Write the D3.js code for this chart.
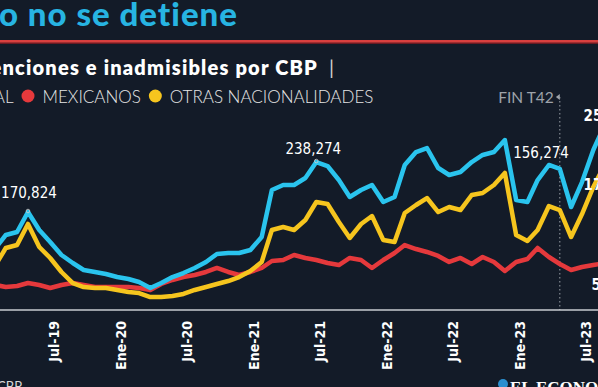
<!DOCTYPE html>
<html>
<head>
<meta charset="utf-8">
<script src="https://cdn.jsdelivr.net/npm/d3@7"></script>
<style>
  html, body { margin: 0; padding: 0; background: #131b28; overflow: hidden; }
  svg { display: block; }
</style>
</head>
<body>
<svg id="chart" width="598" height="387"></svg>
<script>
// Meses (feb 2019 - sep 2023)
var months = [
  "2019-02","2019-03","2019-04","2019-05","2019-06","2019-07","2019-08","2019-09","2019-10","2019-11","2019-12",
  "2020-01","2020-02","2020-03","2020-04","2020-05","2020-06","2020-07","2020-08","2020-09","2020-10","2020-11","2020-12",
  "2021-01","2021-02","2021-03","2021-04","2021-05","2021-06","2021-07","2021-08","2021-09","2021-10","2021-11","2021-12",
  "2022-01","2022-02","2022-03","2022-04","2022-05","2022-06","2022-07","2022-08","2022-09","2022-10","2022-11","2022-12",
  "2023-01","2023-02","2023-03","2023-04","2023-05","2023-06","2023-07","2023-08","2023-09"
];

var total = [
  122300,139800,143900,170824,146600,130400,112800,102000,92600,89900,87200,
  83100,80400,76400,68300,75000,83100,88500,95300,103400,114200,115500,115500,
  119600,137100,200500,207300,207300,216700,238274,232900,214000,191100,200500,207300,
  184300,191100,234300,251800,257200,230200,220800,224800,238300,247800,251800,268000,
  187000,184300,214000,234300,228900,177600,211300,254500,288300
];

var mexicanos = [
  72300,69600,71000,75000,72300,68300,72300,75000,72300,69600,69600,
  69600,69600,68300,65600,73700,79100,83100,85800,89900,95300,89900,85800,
  89900,95300,104700,106100,112800,108800,106100,102000,99300,108800,106100,95300,
  106100,115500,126300,120900,116900,111500,103400,108800,100700,110100,103400,91200,
  103400,107400,122300,110100,100700,92600,96600,99300,102000
];

var otras = [
  99300,122300,126300,154700,123600,108800,89900,75000,69600,68300,68300,
  65600,62900,61500,56100,56100,57500,60200,65600,69600,73700,77700,83100,
  91200,103400,146600,150600,146600,160000,184300,181600,157300,135800,154700,165400,
  133100,130400,169500,180300,189700,170800,177600,173500,193800,196500,207300,223500,
  139800,131700,146600,178900,173500,137100,168100,204600,234300
];

var tickMonths = ["2019-07","2020-01","2020-07","2021-01","2021-07","2022-01","2022-07","2023-01","2023-07","2023-09"];
var tickLabels = ["Jul-19","Ene-20","Jul-20","Ene-21","Jul-21","Ene-22","Jul-22","Ene-23","Jul-23","Sep-23"];

var labelMonths = ["2019-05","2021-07","2023-01","2023-09","2023-09","2023-09"];
var labelSeries = ["total","total","total","total","otras","mexicanos"];
var labelTexts  = ["170,824","238,274","156,274","256,475","175,214","57,312"];

var legendNames = ["TOTAL","MEXICANOS","OTRAS NACIONALIDADES"];
var finT42Month = "2023-05";

var colors = { total: "#2ac4ee", mexicanos: "#e5393c", otras: "#f6c51e" };
var seriesData = { total: total, mexicanos: mexicanos, otras: otras };

var parse = d3.timeParse("%Y-%m");
var svg = d3.select("#chart");
var width = 598, height = 387;

var x = d3.scaleTime()
    .domain([parse("2019-01"), parse("2023-09")])
    .range([-15.7, 604.6]);

var y = d3.scaleLinear()
    .domain([0, 300000])
    .range([338.6, 116.3]);

// titulo
svg.append("text")
    .attr("x", 238).attr("y", 26)
    .attr("text-anchor", "end")
    .attr("fill", "#27b4e2")
    .style("font-family", "Lato, 'Open Sans', sans-serif")
    .style("font-weight", 900)
    .style("font-size", "33px")
    .style("letter-spacing", "1px")
    .text("El flujo migratorio no se detiene");

svg.append("rect").attr("x", 0).attr("y", 40).attr("width", width).attr("height", 4).attr("fill", "#6b1a22");
svg.append("rect").attr("x", 0).attr("y", 40).attr("width", width).attr("height", 2.5).attr("fill", "#d8403f");

// subtitulo
svg.append("text")
    .attr("x", 318).attr("y", 75)
    .attr("text-anchor", "end")
    .attr("fill", "#ffffff")
    .style("font-family", "Lato, sans-serif")
    .style("font-weight", 800)
    .style("font-size", "20px")
    .style("letter-spacing", "1.2px")
    .text("Detenciones e inadmisibles por CBP");
svg.append("text")
    .attr("x", 329).attr("y", 75)
    .attr("fill", "#d0d0d0")
    .style("font-family", "Lato, sans-serif")
    .style("font-size", "20px")
    .text("|");

// leyenda
var legend = svg.append("g");
var lx = 0;
var legendKeys = ["total", "mexicanos", "otras"];
var redDotX = 0;
legendKeys.forEach(function (k, i) {
    legend.append("circle").attr("cx", lx + 6.5).attr("cy", 96).attr("r", 6.5).attr("fill", colors[k]);
    if (k === "mexicanos") redDotX = lx + 6.5;
    var t = legend.append("text")
        .attr("x", lx + 21).attr("y", 103)
        .attr("fill", "#e6e6e6")
        .style("font-family", "Lato, sans-serif")
        .style("font-weight", 300)
        .style("font-size", "17px")
        .text(legendNames[i]);
    lx += 21 + t.node().getComputedTextLength() + 8;
});
legend.attr("transform", "translate(" + (28 - redDotX) + ",0)");

// FIN T42
var xf = x(parse(finT42Month));
svg.append("line")
    .attr("x1", xf).attr("x2", xf).attr("y1", 97).attr("y2", 310)
    .attr("stroke", "#9aa0a8").attr("stroke-width", 1)
    .attr("stroke-dasharray", "1.5,2.5");
svg.append("text")
    .attr("x", xf - 6).attr("y", 103)
    .attr("text-anchor", "end")
    .attr("fill", "#9ea3aa")
    .style("font-family", "Lato, sans-serif")
    .style("font-size", "15.5px")
    .text("FIN T42");
svg.append("path")
    .attr("d", "M" + (xf - 4) + ",97 L" + xf + ",94 L" + xf + ",100 Z")
    .attr("fill", "#9ea3aa");

// eje x
svg.append("line")
    .attr("x1", 0).attr("x2", width).attr("y1", 310).attr("y2", 310)
    .attr("stroke", "#c9ccd0").attr("stroke-width", 1.5);

svg.append("g").selectAll("text")
    .data(tickMonths)
    .enter()
    .append("text")
    .attr("transform", function (d) { return "translate(" + (x(parse(d)) + 4) + ",321) rotate(-90)"; })
    .attr("text-anchor", "end")
    .attr("dy", "0.35em")
    .attr("fill", "#ffffff")
    .style("font-family", "'Liberation Sans Narrow', 'DejaVu Sans Condensed', sans-serif")
    .style("font-weight", 700)
    .style("font-size", "14px")
    .text(function (d, i) { return tickLabels[i]; });

// lineas
var line = d3.line()
    .x(function (d, i) { return x(parse(months[i])); })
    .y(function (d) { return y(d); })
    .curve(d3.curveLinear);

["mexicanos", "otras", "total"].forEach(function (k) {
    svg.append("path")
        .datum(seriesData[k])
        .attr("d", line)
        .attr("fill", "none")
        .attr("stroke", colors[k])
        .attr("stroke-width", 4.5)
        .attr("stroke-linejoin", "round")
        .attr("stroke-linecap", "round");
});

// etiquetas de valores
var labelDx = [1, -3, -3, -21, -21, -13];
var labelDy = [-14, -8, -42, -4, 25, 27];
var labelAnchor = ["middle", "middle", "start", "start", "start", "start"];
labelTexts.forEach(function (t, i) {
    var idx = months.indexOf(labelMonths[i]);
    var px = x(parse(labelMonths[i]));
    var py = y(seriesData[labelSeries[i]][idx]);
    if (i < 2) {
        svg.append("circle").attr("cx", px).attr("cy", py - 1).attr("r", 1.8)
            .attr("fill", "none").attr("stroke", "#d0d0d0").attr("stroke-width", 0.8);
    }
    svg.append("text")
        .attr("x", px + labelDx[i]).attr("y", py + labelDy[i])
        .attr("text-anchor", labelAnchor[i])
        .attr("fill", "#ffffff")
        .style("font-family", "'Liberation Sans Narrow', 'DejaVu Sans Condensed', sans-serif")
        .style("font-weight", i >= 3 ? 700 : 400)
        .style("font-size", "15px")
        .text(t);
});

// fuente y logo
svg.append("text")
    .attr("x", 22).attr("y", 391)
    .attr("text-anchor", "end")
    .attr("fill", "#d8d8d8")
    .style("font-family", "Lato, sans-serif")
    .style("font-size", "13px")
    .text("Fuente: CBP");

svg.append("circle").attr("cx", 503).attr("cy", 384).attr("r", 5).attr("fill", "#2a8fd0");
svg.append("text")
    .attr("x", 510).attr("y", 393)
    .attr("fill", "#ffffff")
    .style("font-family", "'Liberation Serif', serif")
    .style("font-weight", 700)
    .style("font-size", "17px")
    .text("EL ECONOMISTA");
</script>
</body>
</html>
